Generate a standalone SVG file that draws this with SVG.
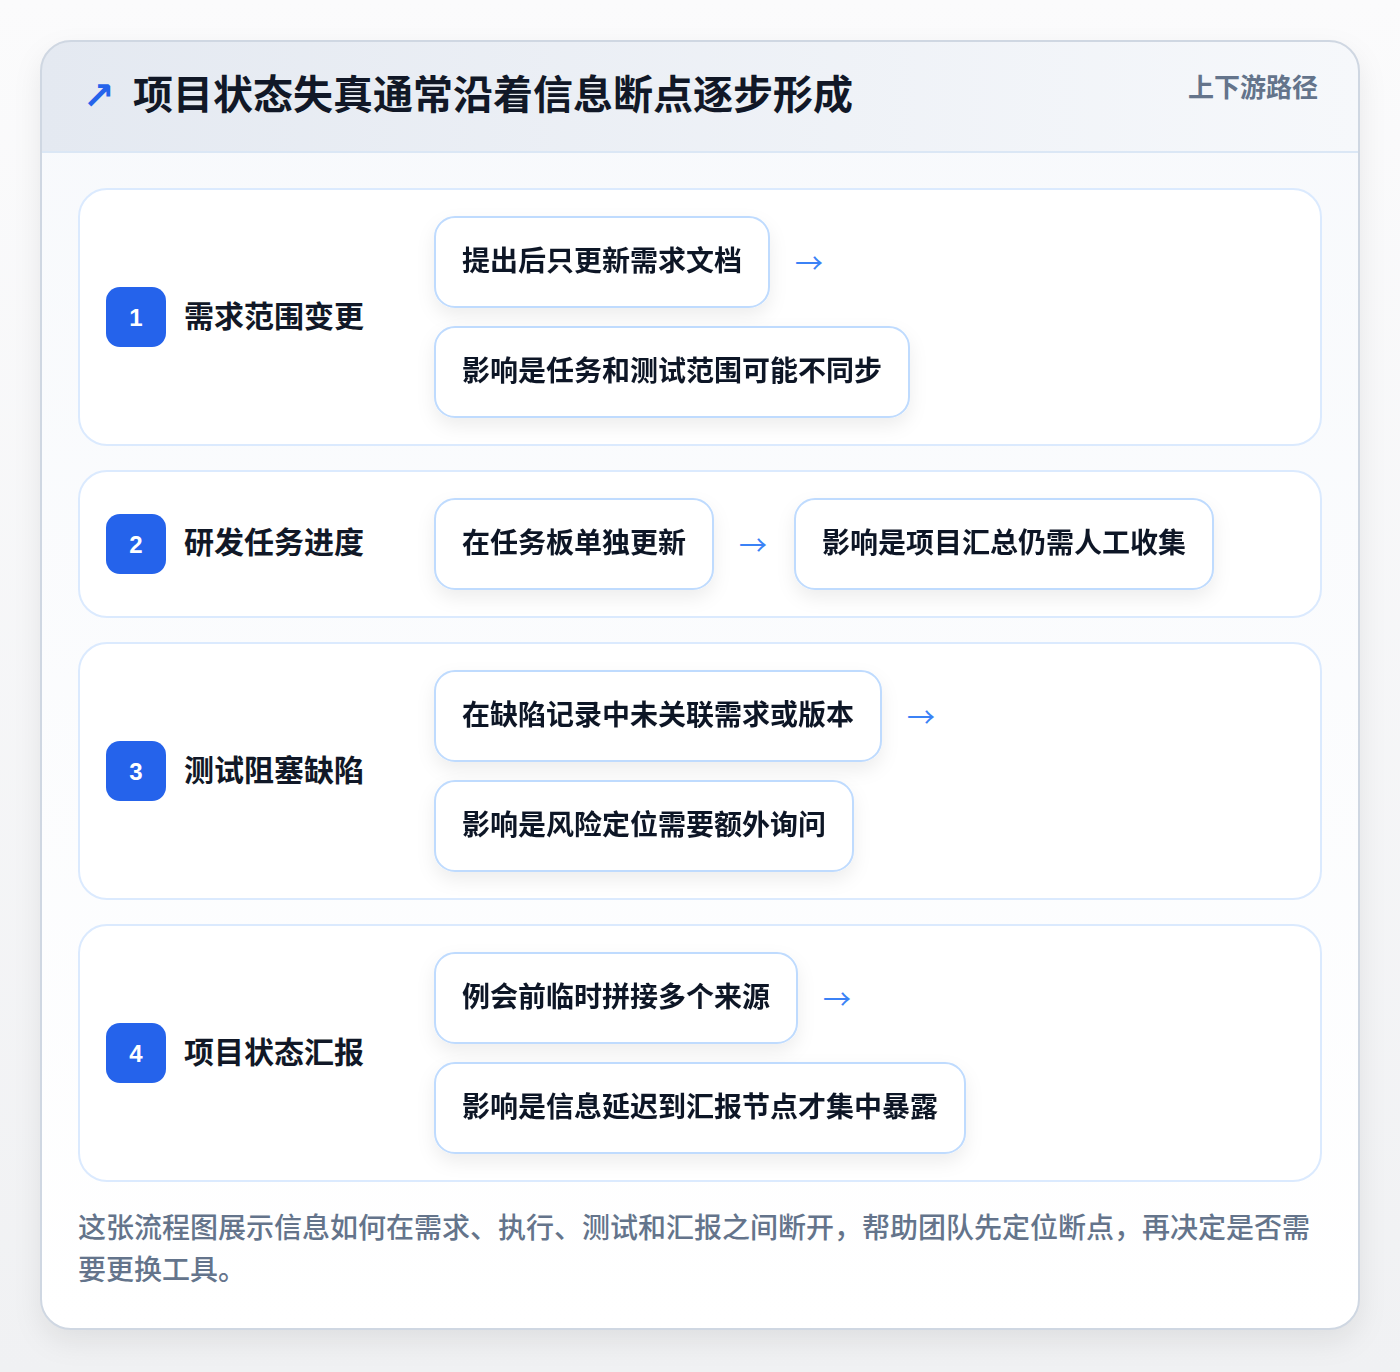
<svg xmlns="http://www.w3.org/2000/svg" width="1400" height="1372" viewBox="0 0 1400 1372">
<defs>
<linearGradient id="pageBg" x1="0" y1="0" x2="0" y2="1"><stop offset="0" stop-color="#fbfbfc"/><stop offset="1" stop-color="#f0f1f3"/></linearGradient>
<linearGradient id="headBg" x1="0" y1="0" x2="1" y2="0"><stop offset="0" stop-color="#e4e9f1"/><stop offset="1" stop-color="#f6f8fb"/></linearGradient>
<linearGradient id="bodyBg" x1="0" y1="0" x2="0" y2="1"><stop offset="0" stop-color="#f7f9fc"/><stop offset="1" stop-color="#ffffff"/></linearGradient>
<filter id="cardShadow" x="-10%" y="-10%" width="120%" height="120%"><feDropShadow dx="0" dy="12" stdDeviation="14" flood-color="#0f172a" flood-opacity="0.08"/></filter>
<filter id="boxShadow" x="-20%" y="-30%" width="140%" height="170%"><feDropShadow dx="0" dy="8" stdDeviation="9" flood-color="#0f172a" flood-opacity="0.07"/></filter>
<clipPath id="cardClip"><rect x="41" y="41" width="1318" height="1288" rx="30"/></clipPath>
<style>
.cjk{font-family:"Noto Sans CJK SC","Noto Sans",sans-serif;}
.title{font-size:40px;font-weight:700;fill:#111827;}
.tag{font-size:26px;font-weight:700;fill:#64748b;}
.section{fill:#ffffff;stroke:#dbeafe;stroke-width:2;}
.badge{fill:#2563eb;}
.num{font-family:"Liberation Sans",Arial,sans-serif;font-size:24px;font-weight:700;fill:#ffffff;text-anchor:middle;}
.label{font-size:30px;font-weight:700;fill:#111827;}
.box{fill:#ffffff;stroke:#bfdbfe;stroke-width:2;}
.boxText{font-size:28px;font-weight:700;fill:#111827;}
.arrow{font-family:"Noto Sans CJK SC",sans-serif;font-size:28px;fill:#3b82f6;}
.foot{font-size:28px;font-weight:500;fill:#64748b;}
</style>
</defs>
<rect x="0" y="0" width="1400" height="1372" fill="url(#pageBg)"/>
<g id="card">
<rect x="41" y="41" width="1318" height="1288" rx="30" fill="#ffffff" filter="url(#cardShadow)"/>
<g clip-path="url(#cardClip)">
<rect x="41" y="41" width="1318" height="1288" fill="url(#bodyBg)"/>
<rect x="41" y="41" width="1318" height="111" fill="url(#headBg)"/>
<line x1="41" y1="152" x2="1359" y2="152" stroke="#dbe7f5" stroke-width="2"/>
</g>
<rect x="41" y="41" width="1318" height="1288" rx="30" fill="none" stroke="#cfd7e2" stroke-width="2"/>
</g>
<g id="header">
<text x="83" y="109" style="font-family:'DejaVu Sans',sans-serif;font-size:38px;font-weight:700;fill:#2563eb">↗</text>
<text x="133" y="109" class="cjk title">项目状态失真通常沿着信息断点逐步形成</text>
<text x="1318" y="97" class="cjk tag" text-anchor="end">上下游路径</text>
</g>
<g id="section1">
<rect x="79" y="189" width="1242" height="256" rx="28" class="section"/>
<rect x="106" y="287" width="60" height="60" rx="14" class="badge"/>
<text x="136" y="326" class="num">1</text>
<text x="184" y="327" class="cjk label">需求范围变更</text>
</g>
<g id="node1a" filter="url(#boxShadow)">
<rect x="435" y="217" width="334" height="90" rx="20" class="box"/>
<text x="462" y="271" class="cjk boxText">提出后只更新需求文档</text>
</g>
<g id="node1b" filter="url(#boxShadow)">
<rect x="435" y="327" width="474" height="90" rx="20" class="box"/>
<text x="462" y="381" class="cjk boxText">影响是任务和测试范围可能不同步</text>
</g>
<g id="section2">
<rect x="79" y="471" width="1242" height="146" rx="28" class="section"/>
<rect x="106" y="514" width="60" height="60" rx="14" class="badge"/>
<text x="136" y="553" class="num">2</text>
<text x="184" y="553" class="cjk label">研发任务进度</text>
</g>
<g id="node2a" filter="url(#boxShadow)">
<rect x="435" y="499" width="278" height="90" rx="20" class="box"/>
<text x="462" y="553" class="cjk boxText">在任务板单独更新</text>
</g>
<g id="node2b" filter="url(#boxShadow)">
<rect x="795" y="499" width="418" height="90" rx="20" class="box"/>
<text x="822" y="553" class="cjk boxText">影响是项目汇总仍需人工收集</text>
</g>
<g id="section3">
<rect x="79" y="643" width="1242" height="256" rx="28" class="section"/>
<rect x="106" y="741" width="60" height="60" rx="14" class="badge"/>
<text x="136" y="780" class="num">3</text>
<text x="184" y="781" class="cjk label">测试阻塞缺陷</text>
</g>
<g id="node3a" filter="url(#boxShadow)">
<rect x="435" y="671" width="446" height="90" rx="20" class="box"/>
<text x="462" y="725" class="cjk boxText">在缺陷记录中未关联需求或版本</text>
</g>
<g id="node3b" filter="url(#boxShadow)">
<rect x="435" y="781" width="418" height="90" rx="20" class="box"/>
<text x="462" y="835" class="cjk boxText">影响是风险定位需要额外询问</text>
</g>
<g id="section4">
<rect x="79" y="925" width="1242" height="256" rx="28" class="section"/>
<rect x="106" y="1023" width="60" height="60" rx="14" class="badge"/>
<text x="136" y="1062" class="num">4</text>
<text x="184" y="1063" class="cjk label">项目状态汇报</text>
</g>
<g id="node4a" filter="url(#boxShadow)">
<rect x="435" y="953" width="362" height="90" rx="20" class="box"/>
<text x="462" y="1007" class="cjk boxText">例会前临时拼接多个来源</text>
</g>
<g id="node4b" filter="url(#boxShadow)">
<rect x="435" y="1063" width="530" height="90" rx="20" class="box"/>
<text x="462" y="1117" class="cjk boxText">影响是信息延迟到汇报节点才集中暴露</text>
</g>
<g id="connectors">
<text x="795" y="274" class="arrow">→</text>
<text x="739" y="556" class="arrow">→</text>
<text x="907" y="728" class="arrow">→</text>
<text x="823" y="1010" class="arrow">→</text>
</g>
<g id="footer">
<text x="78" y="1238" class="cjk foot">这张流程图展示信息如何在需求、执行、测试和汇报之间断开，帮助团队先定位断点，再决定是否需</text>
<text x="78" y="1280" class="cjk foot">要更换工具。</text>
</g>
</svg>
